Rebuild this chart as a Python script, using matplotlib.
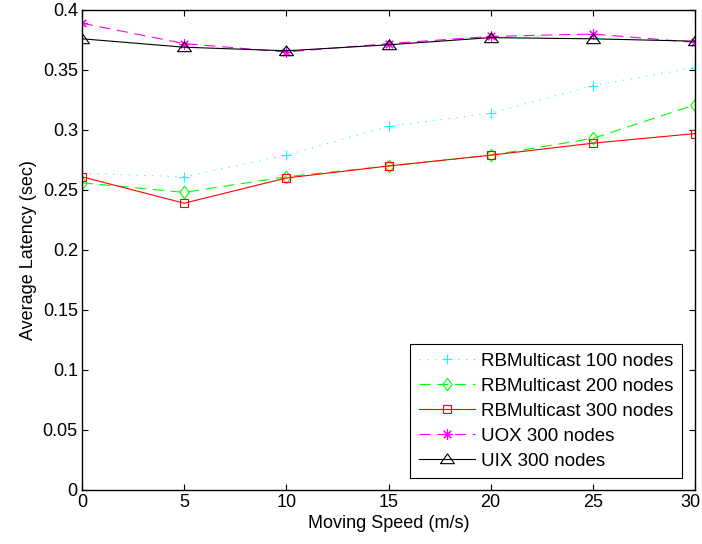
import matplotlib
matplotlib.use('Agg')
import matplotlib.pyplot as plt
import matplotlib.transforms as mtransforms

plt.rcParams['font.family'] = ['Liberation Sans', 'DejaVu Sans']

speed = [0, 5, 10, 15, 20, 25, 30]
rb100 = [0.264, 0.261, 0.279, 0.303, 0.314, 0.337, 0.352]
rb200 = [0.256, 0.248, 0.261, 0.270, 0.279, 0.293, 0.321]
rb300 = [0.261, 0.239, 0.260, 0.270, 0.279, 0.289, 0.297]
uox300 = [0.389, 0.372, 0.365, 0.372, 0.378, 0.380, 0.373]
uix300 = [0.376, 0.369, 0.366, 0.371, 0.377, 0.376, 0.374]

# matlab-like markers
diamond = [(0, 1), (0.75, 0), (0, -1), (-0.75, 0), (0, 1)]
triangle = [(-1, -0.6), (1, -0.6), (0, 0.8), (-1, -0.6)]
dashed = (0, (10, 6))
dotted = (0, (1, 6))
lw = 0.8

fig = plt.figure(figsize=(7.02, 5.44), dpi=100)
ax = fig.add_axes([82/702, 1 - 490/544, (695-82)/702, (490-10)/544])

ax.plot(speed, rb100, color='cyan', linestyle=dotted, marker='+', markersize=7,
        markeredgecolor='cyan', markeredgewidth=lw, linewidth=lw, label='RBMulticast 100 nodes')
ax.plot(speed, rb200, color='#00ff00', linestyle=dashed, marker=diamond, markersize=9,
        markerfacecolor='none', markeredgecolor='#00ff00', markeredgewidth=lw, linewidth=lw,
        label='RBMulticast 200 nodes')
ax.plot(speed, rb300, color='red', linestyle='-', marker='s', markersize=6.3,
        markerfacecolor='none', markeredgecolor='red', markeredgewidth=lw, linewidth=lw,
        label='RBMulticast 300 nodes')
ax.plot(speed, uox300, color='magenta', linestyle=dashed, marker=(8, 2, 0), markersize=7.5,
        markeredgecolor='magenta', markeredgewidth=lw, linewidth=lw, label='UOX 300 nodes')
ax.plot(speed, uix300, color='black', linestyle='-', marker=triangle, markersize=10,
        markerfacecolor='none', markeredgecolor='black', markeredgewidth=lw, linewidth=lw,
        label='UIX 300 nodes')

ax.set_xlim(0, 30)
ax.set_ylim(0, 0.4)
ax.set_xticks(speed)
ax.set_yticks([0, 0.05, 0.1, 0.15, 0.2, 0.25, 0.3, 0.35, 0.4])
ax.set_yticklabels(['0', '0.05', '0.1', '0.15', '0.2', '0.25', '0.3', '0.35', '0.4'])
ax.tick_params(direction='in', top=True, right=True, labelsize=13, length=4.5, width=0.8, pad=3)
for s in ax.spines.values():
    s.set_linewidth(1.0)
ax.set_xlabel('Moving Speed (m/s)', fontsize=13, labelpad=3)
ax.set_ylabel('Average Latency (sec)', fontsize=13, labelpad=4)

# last x label sits a bit left, as in the original
last = ax.get_xticklabels()[-1]
last.set_transform(last.get_transform() + mtransforms.ScaledTranslation(-5/100, 0, fig.dpi_scale_trans))

leg = ax.legend(loc='lower right', fontsize=13.5, handlelength=3.0, handletextpad=0.35,
                fancybox=False, edgecolor='black', framealpha=1, borderpad=0.45,
                labelspacing=0.42, borderaxespad=0, bbox_to_anchor=(0.979, 0.025))
leg.get_frame().set_linewidth(0.8)

fig.savefig('out.png', dpi=100)
